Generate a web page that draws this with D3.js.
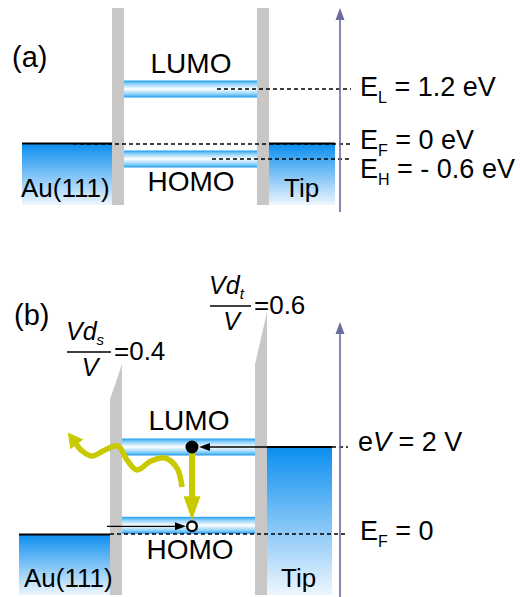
<!DOCTYPE html>
<html>
<head>
<meta charset="utf-8">
<script src="https://cdn.jsdelivr.net/npm/d3@7/dist/d3.min.js"></script>
<style>
  body { margin: 0; background: #fff; }
  text { font-family: "Liberation Sans", Arial, sans-serif; fill: #000; }
</style>
</head>
<body>
<svg width="520" height="597"></svg>
<script>
// energy levels (eV) of the molecule, relative to E_F
var levelNames = ["LUMO", "HOMO"];
var levelsA = [1.2, -0.6];          // panel (a), no bias
var fermi = 0;
var bias = 2;                       // eV = 2 V in panel (b)
var dropNames = ["s", "t"];
var dropRatios = [0.4, 0.6];        // Vd_s/V , Vd_t/V
var workFn = 3.1;                   // barrier height above E_F (panel b)
// levels in (b) shift up by the drop across the substrate gap
var levelsB = levelsA.map(function(e) { return e + dropRatios[0] * bias; });

var svg = d3.select("svg");
var defs = svg.append("defs");

var blueTop = "#0b8ef0", gray = "#c9c7c5", axisCol = "#6b6b9e", yellow = "#c9c900";

var bg = defs.append("linearGradient").attr("id", "block").attr("x1", 0).attr("y1", 0).attr("x2", 0).attr("y2", 1);
bg.append("stop").attr("offset", "0%").attr("stop-color", blueTop);
bg.append("stop").attr("offset", "100%").attr("stop-color", "#eef6fd");

var band = defs.append("linearGradient").attr("id", "band").attr("x1", 0).attr("y1", 0).attr("x2", 0).attr("y2", 1);
[["0%", "#1f9cf0"], ["20%", "#8fd2fb"], ["50%", "#ffffff"], ["80%", "#8fd2fb"], ["100%", "#1f9cf0"]].forEach(function(s) {
  band.append("stop").attr("offset", s[0]).attr("stop-color", s[1]);
});

function sub(t, main, s, size, sdy) {
  t.append("tspan").text(main);
  t.append("tspan").attr("font-size", size).attr("dy", sdy).text(s);
  return t;
}

function axisArrow(g, x, y0, y1) {
  g.append("line").attr("x1", x).attr("x2", x).attr("y1", y0).attr("y2", y1 + 8)
    .attr("stroke", axisCol).attr("stroke-width", 1.6);
  g.append("path").attr("d", "M" + (x - 4.5) + "," + (y1 + 12) + "L" + x + "," + y1 + "L" + (x + 4.5) + "," + (y1 + 12) + "Z")
    .attr("fill", axisCol);
}

function blackArrow(g, x0, x1, y) {
  var dir = x1 > x0 ? 1 : -1;
  g.append("line").attr("x1", x0).attr("x2", x1 - dir * 8).attr("y1", y).attr("y2", y)
    .attr("stroke", "#000").attr("stroke-width", 1.3);
  g.append("path").attr("d", "M" + x1 + "," + y + "L" + (x1 - dir * 11) + "," + (y - 4) + "L" + (x1 - dir * 11) + "," + (y + 4) + "Z");
}

function dashed(g, x0, x1, y) {
  g.append("line").attr("x1", x0).attr("x2", x1).attr("y1", y).attr("y2", y)
    .attr("stroke", "#000").attr("stroke-width", 1.4).attr("stroke-dasharray", "4,3");
}

// ---------------- panel (a) ----------------
var ya = d3.scaleLinear().domain([-0.6, 0, 1.2]).range([159, 144, 89]);  // not drawn to scale
var xa = { au: 22, b1: 112, m0: 124, m1: 257, b2: 269, tip: 335, axis: 340, lab: 360, bottom: 205 };
var ga = svg.append("g");

ga.selectAll(".blk").data([[xa.au, xa.b1], [xa.b2, xa.tip]]).enter().append("rect")
  .attr("x", function(d) { return d[0]; }).attr("width", function(d) { return d[1] - d[0]; })
  .attr("y", ya(fermi)).attr("height", xa.bottom - ya(fermi)).attr("fill", "url(#block)");
ga.selectAll(".top").data([[xa.au, xa.b1], [xa.b2, xa.tip]]).enter().append("line")
  .attr("x1", function(d) { return d[0]; }).attr("x2", function(d) { return d[1]; })
  .attr("y1", ya(fermi) - 0.5).attr("y2", ya(fermi) - 0.5).attr("stroke", "#000").attr("stroke-width", 2.2);

ga.selectAll(".bar").data([xa.b1, xa.m1]).enter().append("rect")
  .attr("x", function(d) { return d; }).attr("width", 12).attr("y", 8).attr("height", xa.bottom - 8).attr("fill", gray);

ga.selectAll(".band").data(levelsA).enter().append("rect")
  .attr("x", xa.m0).attr("width", xa.m1 - xa.m0)
  .attr("y", function(d) { return ya(d) - 8.5; }).attr("height", 17).attr("fill", "url(#band)");

dashed(ga, 217, 351, ya(levelsA[0]));
dashed(ga, 73, 351, ya(fermi));
dashed(ga, 212, 351, ya(levelsA[1]));
axisArrow(ga, xa.axis, 212, 8);

ga.append("text").attr("x", 12).attr("y", 67).attr("font-size", 29).text("(a)");
ga.append("text").attr("x", 191).attr("y", ya(levelsA[0]) - 16).attr("font-size", 28).attr("text-anchor", "middle").text(levelNames[0]);
ga.append("text").attr("x", 191).attr("y", ya(levelsA[1]) + 32).attr("font-size", 28).attr("text-anchor", "middle").text(levelNames[1]);
ga.append("text").attr("x", 21).attr("y", 197).attr("font-size", 26).text("Au(111)");
ga.append("text").attr("x", 284).attr("y", 197).attr("font-size", 26).text("Tip");

var fmt = function(v) { return v < 0 ? "- " + Math.abs(v).toFixed(1) : (v === 0 ? "0" : v.toFixed(1)); };
var tl = sub(ga.append("text").attr("x", xa.lab).attr("y", 96).attr("font-size", 27), "E", "L", 16, 7);
tl.append("tspan").attr("dy", -7).text(" = " + fmt(levelsA[0]) + " eV");
var tf = sub(ga.append("text").attr("x", xa.lab).attr("y", 149).attr("font-size", 27), "E", "F", 16, 7);
tf.append("tspan").attr("dy", -7).text(" = " + fmt(fermi) + " eV");
var th = sub(ga.append("text").attr("x", xa.lab).attr("y", 178).attr("font-size", 27), "E", "H", 16, 7);
th.append("tspan").attr("dy", -7).text(" = " + fmt(levelsA[1]) + " eV");

// ---------------- panel (b) ----------------
var yb = d3.scaleLinear().domain([0, bias]).range([534, 447]);
var xb = { au: 19, b1: 110, m0: 122, m1: 255, b2: 267, tip: 332, axis: 340, lab: 358, bottom: 595 };
var gb = svg.append("g");

// blocks: substrate at E_F, tip raised by eV
gb.append("rect").attr("x", xb.au).attr("width", xb.b1 - xb.au).attr("y", yb(fermi))
  .attr("height", xb.bottom - yb(fermi)).attr("fill", "url(#block)");
gb.append("rect").attr("x", xb.b2).attr("width", xb.tip - xb.b2).attr("y", yb(bias))
  .attr("height", xb.bottom - yb(bias)).attr("fill", "url(#block)");
gb.append("line").attr("x1", xb.au).attr("x2", xb.b1).attr("y1", yb(fermi) + 0.5).attr("y2", yb(fermi) + 0.5)
  .attr("stroke", "#000").attr("stroke-width", 2.2);
gb.append("line").attr("x1", xb.b2).attr("x2", xb.tip).attr("y1", yb(bias)).attr("y2", yb(bias))
  .attr("stroke", "#000").attr("stroke-width", 2.2);

// tilted barriers: voltage drops across each gap
var vacS = workFn, vacM = workFn + dropRatios[0] * bias, vacT = vacM + dropRatios[1] * bias;
var barriers = [[xb.b1, vacS, vacM], [xb.m1, vacM, vacT]];
gb.selectAll(".bar").data(barriers).enter().append("path")
  .attr("d", function(d) {
    return "M" + d[0] + "," + yb(d[1]) + "L" + (d[0] + 12) + "," + yb(d[2]) +
      "L" + (d[0] + 12) + "," + xb.bottom + "L" + d[0] + "," + xb.bottom + "Z";
  })
  .attr("fill", gray);

gb.selectAll(".band").data(levelsB).enter().append("rect")
  .attr("x", xb.m0).attr("width", xb.m1 - xb.m0)
  .attr("y", function(d) { return yb(d) - 8.5; }).attr("height", 17).attr("fill", "url(#band)");

dashed(gb, xb.tip, 348, yb(bias));
dashed(gb, xb.b1, 348, yb(fermi));
axisArrow(gb, xb.axis, 597, 322);

// photon (wavy arrow) from the LUMO->HOMO transition
var ex = 192;
var wave = [[182, 487], [177, 468], [165, 458], [151, 461], [137, 470], [127, 460], [118, 446], [105, 450], [92, 456], [81, 450], [75, 442]];
gb.append("path").attr("d", d3.line().curve(d3.curveCatmullRom)(wave))
  .attr("fill", "none").attr("stroke", yellow).attr("stroke-width", 5.5).attr("stroke-linecap", "butt");
var p1 = wave[wave.length - 1], p0 = wave[wave.length - 2];
var ang = Math.atan2(p1[1] - p0[1], p1[0] - p0[0]);
var tip = [p1[0] + Math.cos(ang) * 12, p1[1] + Math.sin(ang) * 12];
var nx = -Math.sin(ang) * 8, ny = Math.cos(ang) * 8;
gb.append("path").attr("d", "M" + tip + "L" + [p1[0] - Math.cos(ang) * 3 + nx, p1[1] - Math.sin(ang) * 3 + ny] +
  "L" + [p1[0] - Math.cos(ang) * 3 - nx, p1[1] - Math.sin(ang) * 3 - ny] + "Z").attr("fill", yellow);

// vertical transition arrow
var yL = yb(levelsB[0]), yH = yb(levelsB[1]);
gb.append("rect").attr("x", ex - 3).attr("width", 6).attr("y", yL).attr("height", yH - yL - 28).attr("fill", yellow);
gb.append("path").attr("d", "M" + (ex - 8.5) + "," + (yH - 29) + "L" + (ex + 8.5) + "," + (yH - 29) + "L" + ex + "," + (yH - 5) + "Z")
  .attr("fill", yellow);

// electron from tip into LUMO, hole in HOMO filled from substrate
blackArrow(gb, xb.tip, ex + 7, yL);
gb.append("circle").attr("cx", ex).attr("cy", yL).attr("r", 6.5).attr("fill", "#000");
blackArrow(gb, 107, ex - 6, yH + 1);
gb.append("circle").attr("cx", ex).attr("cy", yH + 1).attr("r", 4.8).attr("fill", "#fff").attr("stroke", "#000").attr("stroke-width", 2.4);

gb.append("text").attr("x", 14).attr("y", 325).attr("font-size", 29).text("(b)");
gb.append("text").attr("x", 189).attr("y", yL - 17).attr("font-size", 28).attr("text-anchor", "middle").text(levelNames[0]);
gb.append("text").attr("x", 190).attr("y", yH + 34).attr("font-size", 28).attr("text-anchor", "middle").text(levelNames[1]);
gb.append("text").attr("x", 24).attr("y", 587).attr("font-size", 26).text("Au(111)");
gb.append("text").attr("x", 281).attr("y", 587).attr("font-size", 26).text("Tip");

var tv = gb.append("text").attr("x", xb.lab).attr("y", 451).attr("font-size", 27);
tv.append("tspan").text("e");
tv.append("tspan").attr("font-style", "italic").text("V");
tv.append("tspan").text(" = " + bias + " V");
var tf2 = sub(gb.append("text").attr("x", 360).attr("y", 540).attr("font-size", 27), "E", "F", 16, 7);
tf2.append("tspan").attr("dy", -7).text(" = " + fermi);

// fractions Vd/V at the top of each barrier
var fracs = [{ x0: 67, x1: 111, y: 352 }, { x0: 210, x1: 251, y: 306 }];
fracs.forEach(function(f, i) {
  var cx = (f.x0 + f.x1) / 2;
  var num = gb.append("text").attr("x", cx - 4).attr("y", f.y - 12).attr("font-size", 25).attr("text-anchor", "middle").attr("font-style", "italic");
  num.append("tspan").text("Vd");
  num.append("tspan").attr("font-size", 15).attr("dy", 5).text(dropNames[i]);
  gb.append("line").attr("x1", f.x0).attr("x2", f.x1).attr("y1", f.y).attr("y2", f.y).attr("stroke", "#000").attr("stroke-width", 1.6);
  gb.append("text").attr("x", cx + 1).attr("y", f.y + 24).attr("font-size", 25).attr("text-anchor", "middle").attr("font-style", "italic").text("V");
  gb.append("text").attr("x", f.x1 + 3).attr("y", f.y + 8).attr("font-size", 26).text("=" + dropRatios[i].toFixed(1));
});
</script>
</body>
</html>
